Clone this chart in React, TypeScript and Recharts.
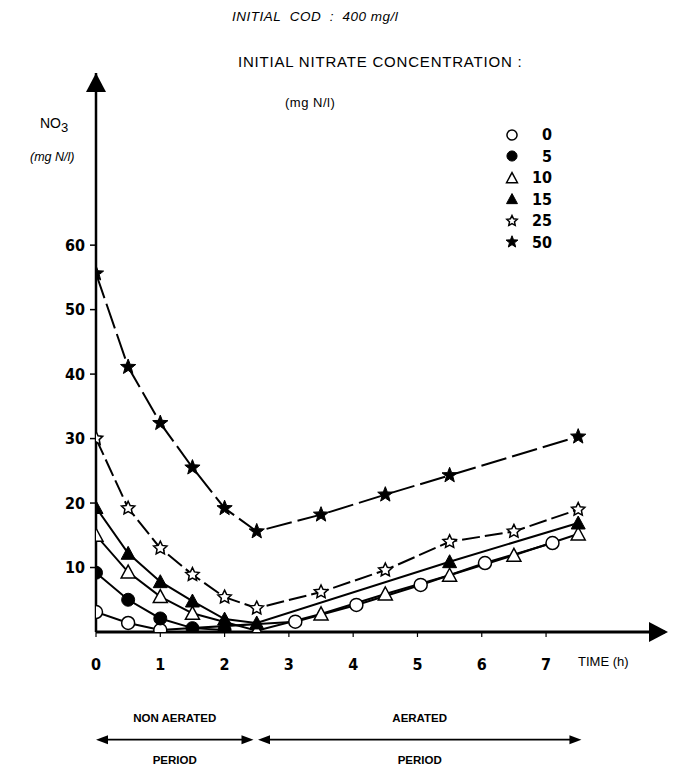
import React from 'react';
import { ComposedChart, Line, XAxis, YAxis, ReferenceDot, ReferenceLine } from 'recharts';

// time axis (h) and NO3 axis (mg N/l)
const hourTicks = [0, 1, 2, 3, 4, 5, 6, 7];
const no3Ticks = [10, 20, 30, 40, 50, 60];

// initial nitrate 0 mg N/l
const n0Time = [0, 0.5, 1, 3.1, 4.05, 5.05, 6.05, 7.1];
const n0Value = [3.1, 1.4, 0.3, 1.6, 4.2, 7.3, 10.7, 13.8];
// initial nitrate 5 mg N/l
const n5Time = [0, 0.5, 1, 1.5, 2];
const n5Value = [9.2, 5.0, 2.1, 0.6, 0.3];
// initial nitrate 10 mg N/l
const n10Time = [0, 0.5, 1, 1.5, 2.5, 3.5, 4.5, 5.5, 6.5, 7.5];
const n10Value = [15.0, 9.3, 5.5, 2.9, 0.2, 2.8, 5.9, 8.8, 11.9, 15.2];
// initial nitrate 15 mg N/l
const n15Time = [0, 0.5, 1, 1.5, 2, 2.5, 5.5, 7.5];
const n15Value = [19.3, 12.2, 7.8, 4.8, 2.0, 1.4, 10.9, 16.9];
// initial nitrate 25 mg N/l
const n25Time = [0, 0.5, 1, 1.5, 2, 2.5, 3.5, 4.5, 5.5, 6.5, 7.5];
const n25Value = [30.0, 19.2, 13.0, 8.9, 5.4, 3.7, 6.2, 9.6, 14.0, 15.6, 19.0];
// initial nitrate 50 mg N/l
const n50Time = [0, 0.5, 1, 1.5, 2, 2.5, 3.5, 4.5, 5.5, 7.5];
const n50Value = [55.6, 41.1, 32.4, 25.5, 19.2, 15.6, 18.2, 21.3, 24.3, 30.3];

// non aerated / aerated periods (h)
const periodNames = ['NON AERATED', 'AERATED'];
const periodStart = [0, 2.52];
const periodEnd = [2.45, 7.55];

const X_MAX = 8.85;
const Y_MAX = 86.7;
const PERIOD_LEVEL = -16.7;

type Kind = 'circleOpen' | 'circle' | 'triOpen' | 'tri' | 'starOpen' | 'star';

const toPoints = (time: number[], value: number[]) => time.map((t, i) => ({ t, v: value[i] }));

const series: { name: string; kind: Kind; data: { t: number; v: number }[]; dash?: string }[] = [
  { name: '0', kind: 'circleOpen', data: toPoints(n0Time, n0Value) },
  { name: '5', kind: 'circle', data: toPoints(n5Time, n5Value) },
  { name: '10', kind: 'triOpen', data: toPoints(n10Time, n10Value) },
  { name: '15', kind: 'tri', data: toPoints(n15Time, n15Value) },
  { name: '25', kind: 'starOpen', data: toPoints(n25Time, n25Value), dash: '18 5' },
  { name: '50', kind: 'star', data: toPoints(n50Time, n50Value), dash: '26 6' },
];

function starPath(cx: number, cy: number, outer: number, inner: number) {
  let d = '';
  for (let i = 0; i < 10; i++) {
    const r = i % 2 === 0 ? outer : inner;
    const a = -Math.PI / 2 + (i * Math.PI) / 5;
    d += (i === 0 ? 'M' : 'L') + (cx + r * Math.cos(a)).toFixed(2) + ',' + (cy + r * Math.sin(a)).toFixed(2);
  }
  return d + 'Z';
}

function Marker({ kind, cx, cy, s = 1 }: { kind: Kind; cx: number; cy: number; s?: number }) {
  const open = { fill: '#fff', stroke: '#000', strokeWidth: 1.5 };
  const solid = { fill: '#000', stroke: '#000', strokeWidth: 1 };
  switch (kind) {
    case 'circleOpen':
      return <circle cx={cx} cy={cy} r={6.5 * s} {...open} />;
    case 'circle':
      return <circle cx={cx} cy={cy} r={6.5 * s} {...solid} />;
    case 'triOpen':
    case 'tri': {
      const h = 7 * s;
      const pts = `${cx},${cy - h} ${cx - h},${cy + h * 0.85} ${cx + h},${cy + h * 0.85}`;
      return <polygon points={pts} {...(kind === 'tri' ? solid : open)} />;
    }
    case 'starOpen':
      return <path d={starPath(cx, cy, 7 * s, 3.4 * s)} {...open} />;
    default:
      return <path d={starPath(cx, cy, 8 * s, 3.4 * s)} {...solid} />;
  }
}

const ArrowUp = (p: any) => (
  <polygon points={`${p.cx},${p.cy} ${p.cx - 10},${p.cy + 19} ${p.cx + 10},${p.cy + 19}`} fill="#000" />
);
const ArrowRight = (p: any) => (
  <polygon points={`${p.cx + 3},${p.cy} ${p.cx - 16},${p.cy - 10} ${p.cx - 16},${p.cy + 10}`} fill="#000" />
);

const periodShape = (title: string) => (p: any) => {
  const { x1, y1, x2 } = p;
  const mid = (x1 + x2) / 2;
  const txt = { fontFamily: 'Liberation Sans, Arial', fontSize: 11.5, fontWeight: 700, textAnchor: 'middle' as const };
  return (
    <g>
      <line x1={x1 + 6} y1={y1} x2={x2 - 6} y2={y1} stroke="#000" strokeWidth={1.6} />
      <polygon points={`${x1},${y1} ${x1 + 12},${y1 - 4.5} ${x1 + 12},${y1 + 4.5}`} fill="#000" />
      <polygon points={`${x2},${y1} ${x2 - 12},${y1 - 4.5} ${x2 - 12},${y1 + 4.5}`} fill="#000" />
      <text x={mid} y={y1 - 18} {...txt}>{title}</text>
      <text x={mid} y={y1 + 24} {...txt}>PERIOD</text>
    </g>
  );
};

const tickFont = { fill: '#000', fontSize: 16, fontWeight: 700, fontFamily: 'DejaVu Sans Condensed' };
const sans = 'Liberation Sans, Arial, sans-serif';

export default function App() {
  return (
    <div style={{ position: 'absolute', left: 0, top: 0, width: 674, height: 772, background: '#fff' }}>
      <ComposedChart width={674} height={772} margin={{ top: 73, right: 9, bottom: 100, left: 56 }}>
        <XAxis
          type="number"
          dataKey="t"
          domain={[0, X_MAX]}
          ticks={hourTicks}
          allowDataOverflow
          height={40}
          axisLine={{ stroke: '#000', strokeWidth: 3 }}
          tickLine={{ stroke: '#000', strokeWidth: 1.2 }}
          tickSize={5}
          tickMargin={22}
          tick={tickFont}
        />
        <YAxis
          type="number"
          dataKey="v"
          domain={[0, Y_MAX]}
          ticks={no3Ticks}
          allowDataOverflow
          width={40}
          axisLine={{ stroke: '#000', strokeWidth: 2.5 }}
          tickLine={{ stroke: '#000', strokeWidth: 1.5 }}
          tickSize={6}
          tickMargin={5}
          tick={tickFont}
        />
        {series.map((s) => (
          <Line
            key={s.name}
            data={s.data}
            dataKey="v"
            type="linear"
            stroke="#000"
            strokeWidth={2}
            strokeDasharray={s.dash}
            isAnimationActive={false}
            dot={(p: any) => <Marker key={`${s.name}-${p.index}`} kind={s.kind} cx={p.cx} cy={p.cy} />}
            activeDot={false}
          />
        ))}
        <ReferenceDot x={0} y={Y_MAX} r={0} ifOverflow="visible" shape={ArrowUp} />
        <ReferenceDot x={X_MAX} y={0} r={0} ifOverflow="visible" shape={ArrowRight} />
        {periodNames.map((name, i) => (
          <ReferenceLine
            key={name}
            segment={[
              { x: periodStart[i], y: PERIOD_LEVEL },
              { x: periodEnd[i], y: PERIOD_LEVEL },
            ]}
            ifOverflow="visible"
            shape={periodShape(name)}
          />
        ))}
      </ComposedChart>

      <div style={{ position: 'absolute', left: 232, top: 9, fontFamily: sans, fontSize: 13.5, letterSpacing: 0.5, fontStyle: 'italic', whiteSpace: 'nowrap' }}>
        INITIAL&nbsp; COD &nbsp;: &nbsp;400 mg/l
      </div>
      <div style={{ position: 'absolute', left: 238, top: 53, fontFamily: sans, fontSize: 15, letterSpacing: 0.8, whiteSpace: 'nowrap' }}>
        INITIAL NITRATE CONCENTRATION :
      </div>
      <div style={{ position: 'absolute', left: 285, top: 95, fontFamily: sans, fontSize: 13, letterSpacing: 0.5, whiteSpace: 'nowrap' }}>
        (mg N/l)
      </div>

      <div style={{ position: 'absolute', left: 40, top: 115, fontFamily: sans, fontSize: 14, whiteSpace: 'nowrap' }}>
        NO<sub style={{ fontSize: 13 }}>3</sub>
      </div>
      <div style={{ position: 'absolute', left: 30, top: 150, fontFamily: sans, fontSize: 12.5, fontStyle: 'italic', whiteSpace: 'nowrap' }}>
        (mg N/l)
      </div>
      <div style={{ position: 'absolute', left: 578, top: 654, fontFamily: sans, fontSize: 13, whiteSpace: 'nowrap' }}>
        TIME (h)
      </div>

      <div style={{ position: 'absolute', left: 500, top: 124 }}>
        {series.map((s) => (
          <div key={s.name} style={{ display: 'flex', alignItems: 'center', height: 21.5 }}>
            <svg width={24} height={20}>
              <Marker kind={s.kind} cx={12} cy={10} s={0.78} />
            </svg>
            <span style={{ ...tickFont, color: '#000', width: 28, textAlign: 'right' }}>
              {s.name}
            </span>
          </div>
        ))}
      </div>
    </div>
  );
}
